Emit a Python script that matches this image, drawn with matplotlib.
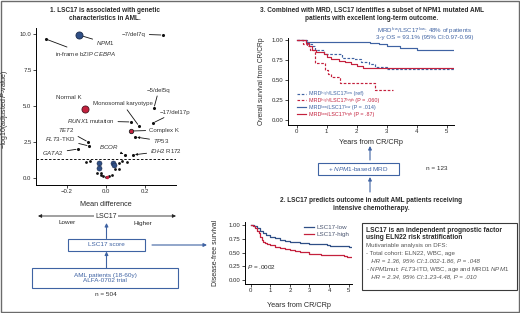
import numpy as np
import matplotlib.pyplot as plt
from matplotlib.patches import Rectangle

plt.rcParams['font.family'] = ['Liberation Sans', 'DejaVu Sans']
plt.rcParams['mathtext.fontset'] = 'custom'
plt.rcParams['mathtext.rm'] = 'Liberation Sans'
plt.rcParams['mathtext.it'] = 'Liberation Sans:italic'
plt.rcParams['mathtext.bf'] = 'Liberation Sans:bold'

W, H = 520, 313
BLUE = '#2f4f86'
LBLUE = '#3f63a3'
RED = '#c4213d'
TXT = '#2a2a2a'
NARROW = ['Liberation Sans Narrow', 'Liberation Sans', 'DejaVu Sans']

# ---- panel 1: volcano data ----
hit_labels = ['$\\mathit{NPM1}$', 'in-frame bZIP $\\mathit{CEBPA}$', '\u22127/del7q', 'Normal K',
              '\u22125/del5q', 'Monosomal karyotype', '\u221217/del17p', '$\\mathit{RUNX1}$ mutation',
              'Complex K', '$\\mathit{TP53}$', '$\\mathit{TET2}$', '$\\mathit{FLT3}$-TKD',
              '$\\mathit{GATA2}$', '$\\mathit{BCOR}$', '$\\mathit{IDH2}$ R172']
hit_x = [-0.138, -0.308, 0.292, -0.108, 0.246, 0.169, 0.241, 0.128, 0.128, 0.149,
         -0.092, -0.087, -0.143, 0.097, 0.138]
hit_y = [9.93, 9.65, 9.93, 4.79, 4.86, 3.61, 3.82, 3.89, 3.26, 2.85,
         2.50, 2.22, 2.01, 1.60, 1.60]
hit_kind = ['big_blue', 'dot', 'dot', 'big_red', 'dot', 'dot', 'dot', 'dot', 'mid_red', 'dot',
            'dot', 'dot', 'dot', 'dot', 'dot']
# label anchor (left, middle) and connector style
lab_x = [-0.051, -0.262, 0.082, -0.256, 0.210, -0.067, 0.277, -0.200, 0.221, 0.241,
         -0.246, -0.313, -0.328, -0.036, 0.226]
lab_y = [9.38, 8.61, 10.0, 5.56, 6.11, 5.14, 4.58, 3.96, 3.33, 2.57,
         3.33, 2.71, 1.74, 2.15, 1.88]
lab_arrow = ['-', '-', '-', None, '-', '-', '-', '-', '-', '-|>',
             '-', '-', '-', '-|>', '-|>']

ns_x = [-0.104, -0.082, 0.068, 0.080, 0.110, 0.048, 0.065, -0.046, -0.027, -0.026,
        -0.014, 0.000, 0.017, 0.030]
ns_y = [1.13, 1.20, 1.02, 1.20, 1.09, 0.60, 0.60, 0.33, 0.37, 0.23,
        0.14, 0.09, 0.16, 0.23]
ns_blue_x = [-0.036, -0.036, 0.035, 0.043]
ns_blue_y = [1.02, 0.67, 1.06, 0.90]
ns_red_x = [0.007]
ns_red_y = [0.05]
p_cut = 1.3

# ---- panel 3: NPM1 MRD x LSC17 overall survival ----
t_hl = [0, 0.35, 0.5, 0.6, 0.9, 1.5, 1.9, 2.15, 2.4, 2.6, 3.0, 5.25]
s_hl = [1, 0.95, 0.92, 0.88, 0.82, 0.78, 0.76, 0.73, 0.70, 0.66, 0.635, 0.635]
t_hh = [0, 0.22, 0.33, 0.45, 0.6, 0.95, 1.05, 1.13, 1.45, 2.62, 3.2]
s_hh = [1, 0.95, 0.92, 0.88, 0.71, 0.625, 0.58, 0.54, 0.46, 0.375, 0.375]
t_ll = [0, 0.31, 0.45, 2.44, 2.75, 3.0, 3.45, 4.0, 5.25]
s_ll = [1, 0.98, 0.97, 0.96, 0.95, 0.92, 0.90, 0.88, 0.88]
t_lh = [0, 0.3, 0.4, 0.5, 0.65, 0.9, 1.0, 1.15, 1.4, 1.6, 1.8, 2.0, 2.2, 5.25]
s_lh = [1, 0.96, 0.92, 0.88, 0.85, 0.82, 0.79, 0.76, 0.74, 0.72, 0.70, 0.68, 0.655, 0.655]
HI = '\u02b0\u2071\u1d4d\u02b0'   # superscript "high"
LO = '\u02e1\u1d52\u02b7'         # superscript "low"
os_labels = ['MRD' + HI + '/LSC17' + LO + ' (ref)',
             'MRD' + HI + '/LSC17' + HI + ' (P = .060)',
             'MRD' + LO + '/LSC17' + LO + ' (P = .014)',
             'MRD' + LO + '/LSC17' + HI + ' (P = .87)']

# ---- panel 2: DFS by LSC17 ----
t_low = [0, 0.15, 0.3, 0.5, 0.65, 0.8, 1.0, 1.25, 1.5, 1.75, 2.0, 2.5, 3.0, 3.5, 3.9, 4.05, 4.6, 5.0, 5.2]
s_low = [1, 0.98, 0.95, 0.89, 0.85, 0.82, 0.79, 0.76, 0.73, 0.71, 0.69, 0.67, 0.66, 0.65, 0.64, 0.61, 0.61, 0.605, 0.60]
t_high = [0, 0.1, 0.22, 0.3, 0.4, 0.5, 0.57, 0.65, 0.74, 0.85, 1.0, 1.25, 1.5, 1.75, 2.0, 2.25,
          2.5, 3.0, 3.6, 4.6, 4.75, 4.9, 5.2]
s_high = [1, 0.98, 0.94, 0.90, 0.85, 0.79, 0.73, 0.70, 0.67, 0.65, 0.63, 0.60, 0.58, 0.565, 0.55, 0.53,
          0.51, 0.48, 0.46, 0.46, 0.43, 0.42, 0.41]


def box(x0, y0, x1, y1):
    return [x0 / W, 1 - y1 / H, (x1 - x0) / W, (y1 - y0) / H]


def style_axes(ax):
    ax.patch.set_visible(False)
    for s in ['top', 'right']:
        ax.spines[s].set_visible(False)
    for s in ['left', 'bottom']:
        ax.spines[s].set_linewidth(0.7)
    ax.tick_params(length=2, width=0.6, labelsize=4.3, pad=1.2, colors=TXT)


fig = plt.figure(figsize=(W / 100, H / 100), dpi=100)

# overlay for the flow-chart parts
ov = fig.add_axes([0, 0, 1, 1])
ov.set_xlim(0, W)
ov.set_ylim(H, 0)
ov.axis('off')
ov.add_patch(Rectangle((1, 1), 517.5, 310.5, fill=False, ec='#6b6b6b', lw=1.0, clip_on=False))

# titles
ov.text(105, 15, '1. LSC17 is associated with genetic\ncharacteristics in AML.', ha='center', va='center',
        fontsize=4.7, fontweight='bold', color=TXT, linespacing=1.2)
ov.text(372, 14, '3. Combined with MRD, LSC17 identifies a subset of NPM1 mutated AML\n'
        'patients with excellent long-term outcome.', ha='center', va='center',
        fontsize=4.7, fontweight='bold', color=TXT, linespacing=1.2)
ov.text(371, 205, '2. LSC17 predicts outcome in adult AML patients receiving\nintensive chemotherapy.',
        ha='center', va='center', fontsize=4.7, fontweight='bold', color=TXT, linespacing=1.2)

# LSC17 scale and boxes
ov.annotate('', xy=(38, 216), xytext=(176, 216),
            arrowprops=dict(arrowstyle='<|-|>', color='#222222', lw=0.6, mutation_scale=5,
                            shrinkA=0, shrinkB=0))
ov.text(106, 216, 'LSC17', ha='center', va='center', fontsize=5, color=TXT,
        bbox=dict(fc='white', ec='none', pad=1.2))
ov.text(67, 223, 'Lower', ha='center', va='center', fontsize=4.6, color=TXT)
ov.text(143, 223, 'Higher', ha='center', va='center', fontsize=4.6, color=TXT)
arrow_kw = dict(arrowstyle='-|>', color=LBLUE, lw=0.8, mutation_scale=5, shrinkA=0, shrinkB=0)
ov.annotate('', xy=(106.5, 223), xytext=(106.5, 238.5), arrowprops=arrow_kw)
ov.add_patch(Rectangle((68, 239), 77, 11.5, fill=False, ec=LBLUE, lw=0.8))
ov.text(106.5, 245, 'LSC17 score', ha='center', va='center', fontsize=4.6, color=LBLUE)
ov.annotate('', xy=(106.5, 251.5), xytext=(106.5, 268), arrowprops=arrow_kw)
ov.add_patch(Rectangle((32, 268), 146, 20, fill=False, ec=LBLUE, lw=0.8))
ov.text(105, 278, 'AML patients (18-60y)\nALFA-0702 trial', ha='center', va='center',
        fontsize=4.6, color=LBLUE, linespacing=1.2)
ov.text(106, 294, 'n = 504', ha='center', va='center', fontsize=4.6, color=TXT)
ov.annotate('', xy=(207, 245), xytext=(152, 245), arrowprops=arrow_kw)

# NPM1 MRD box
ov.annotate('', xy=(370, 146), xytext=(370, 160), arrowprops=arrow_kw)
ov.add_patch(Rectangle((318, 162.5), 81, 12.5, fill=False, ec=LBLUE, lw=0.8))
ov.text(358.5, 169, '+ $\\mathit{NPM1}$-based MRD', ha='center', va='center', fontsize=4.6, color=LBLUE)
ov.text(426, 168.5, 'n = 123', ha='left', va='center', fontsize=4.6, color=TXT)
ov.annotate('', xy=(370, 177), xytext=(370, 192), arrowprops=arrow_kw)

# text box
ov.add_patch(Rectangle((362, 223), 155, 67, fill=False, ec='#3a3a3a', lw=0.8))
box_lines = [('LSC17 is an independent prognostic factor', 'bold', 'normal', TXT),
             ('using ELN22 risk stratification', 'bold', 'normal', TXT),
             ('Mutivariable analysis on DFS:', 'normal', 'normal', '#555555'),
             ('- Total cohort: ELN22, WBC, age', 'normal', 'normal', '#555555'),
             ('   HR = 1.36, 95% CI:1.002-1.86, P = .048', 'normal', 'italic', '#555555'),
             ('- $\\mathit{NPM1}$mut: $\\mathit{FLT3}$-ITD, WBC, age and MRD1 $\\mathit{NPM1}$', 'normal',
              'normal', '#555555'),
             ('   HR = 2.34, 95% CI:1.23-4.48, P = .010', 'normal', 'italic', '#555555')]
box_y = [230, 237.5, 246, 253.5, 261, 269, 276.5]
for (txt, wt, st, col), yy in zip(box_lines, box_y):
    ov.text(366, yy, txt, ha='left', va='center', fontsize=4.8 if wt == 'bold' else 4.4,
            fontweight=wt, fontstyle=st, color=col)

# top-right annotation
ov.text(472, 30.5, 'MRD$^{low}$/LSC17$^{low}$: 48% of patients', ha='right', va='center',
        fontsize=4.4, color=LBLUE)
ov.text(474, 38, '3-y OS = 93.1% (95% CI:0.97-0.99)', ha='right', va='center',
        fontsize=4.4, color=LBLUE)

# ---- volcano ----
ax1 = fig.add_axes(box(36, 28, 176, 185))
style_axes(ax1)
ax1.set_xlim(-0.359, 0.359)
ax1.set_ylim(-0.49, 10.42)
ax1.set_xticks([-0.2, 0.0, 0.2])
ax1.set_yticks([0.0, 2.5, 5.0, 7.5, 10.0])
ax1.xaxis.set_major_formatter('{x:.1f}')
ax1.yaxis.set_major_formatter('{x:.1f}')
ax1.axhline(p_cut, color='#111111', lw=0.7, ls=(0, (2.5, 1.8)))
ax1.scatter(ns_x, ns_y, s=4, color='#111111', lw=0, zorder=3)
ax1.scatter(ns_blue_x, ns_blue_y, s=13, color=BLUE, ec='#1c2c4a', lw=0.4, zorder=3)
ax1.scatter(ns_red_x, ns_red_y, s=6, color=RED, lw=0, zorder=3)
kind_style = {'dot': dict(s=5, color='#111111', lw=0),
              'big_blue': dict(s=26, color=BLUE, ec='#1c2c4a', lw=0.6),
              'big_red': dict(s=26, color=RED, ec='#4a1420', lw=0.6),
              'mid_red': dict(s=10, color=RED, ec='#222222', lw=0.6)}
for i in range(len(hit_x)):
    ax1.scatter([hit_x[i]], [hit_y[i]], zorder=4, **kind_style[hit_kind[i]])
    ap = None
    if lab_arrow[i]:
        ap = dict(arrowstyle=lab_arrow[i], color='#111111', lw=0.6, mutation_scale=3,
                  shrinkA=0.5, shrinkB=1.5)
    ax1.annotate(hit_labels[i], xy=(hit_x[i], hit_y[i]), xytext=(lab_x[i], lab_y[i]),
                 ha='left', va='center', fontsize=4.4, color='#333333', arrowprops=ap)
ax1.set_ylabel('\u2212log10(adjusted $\\mathit{P}$-value)', fontsize=5, color=TXT, family=NARROW)
ax1.yaxis.set_label_coords(-0.186, 0.48)
ax1.set_xlabel('Mean difference', fontsize=5.2, color=TXT, family=NARROW)
ax1.xaxis.set_label_coords(0.5, -0.10)

# ---- top KM: OS ----
ax3 = fig.add_axes(box(288, 38, 454, 125))
style_axes(ax3)
ax3.set_xlim(-0.29, 5.24)
ax3.set_ylim(-0.0625, 1.025)
ax3.set_xticks(range(6))
ax3.set_yticks([0, 0.25, 0.5, 0.75, 1.0])
ax3.yaxis.set_major_formatter('{x:.2f}')
dash = (0, (2.2, 1.4))
os_series = [(t_hl, s_hl, LBLUE, dash), (t_hh, s_hh, RED, dash),
             (t_ll, s_ll, LBLUE, '-'), (t_lh, s_lh, RED, '-')]
for t, s, c, ls in os_series:
    ax3.plot(t, s, drawstyle='steps-post', color=c, lw=0.85, ls=ls)
# compact legend rows
for k, ((t, s, c, ls), lab) in enumerate(zip(os_series, os_labels)):
    ya = (125 - (93.5 + 6.9 * k)) / 87
    ax3.plot([(297 - 288) / 166, (306 - 288) / 166], [ya, ya], color=c, lw=0.85, ls=ls,
             transform=ax3.transAxes, clip_on=False)
    ax3.text((309 - 288) / 166, ya, lab, color=c, fontsize=3.9, ha='left', va='center',
             transform=ax3.transAxes)
ax3.set_ylabel('Overall survival from CR/CRp', fontsize=4.8, color=TXT, family=NARROW)
ax3.yaxis.set_label_coords(-0.139, 0.5)
ax3.set_xlabel('Years from CR/CRp', fontsize=5.2, color=TXT, family=NARROW)
ax3.xaxis.set_label_coords(0.5, -0.16)

# ---- bottom KM: DFS ----
ax2 = fig.add_axes(box(245, 222, 352, 284))
style_axes(ax2)
ax2.set_xlim(-0.29, 5.17)
ax2.set_ylim(-0.073, 1.055)
ax2.set_xticks(range(6))
ax2.set_yticks([0, 0.25, 0.5, 0.75, 1.0])
ax2.yaxis.set_major_formatter('{x:.2f}')
ax2.plot(t_low, s_low, drawstyle='steps-post', color=BLUE, lw=0.9, label='LSC17-low')
ax2.plot(t_high, s_high, drawstyle='steps-post', color=RED, lw=0.9, label='LSC17-high')
leg2 = ax2.legend(loc='upper left', bbox_to_anchor=(0.55, 0.95), fontsize=4.5, frameon=False,
                  handlelength=1.6, handletextpad=0.5, labelspacing=0.15, borderpad=0, borderaxespad=0)
for t in leg2.get_texts():
    t.set_color('#4a5570')
ax2.text(-0.19, 0.24, '$\\mathit{P}$ = .0002', fontsize=4.6, color=TXT, ha='left', va='center')
ax2.set_ylabel('Disease-free survival', fontsize=5, color=TXT, family=NARROW)
ax2.yaxis.set_label_coords(-0.243, 0.5)
ax2.set_xlabel('Years from CR/CRp', fontsize=5.2, color=TXT, family=NARROW)
ax2.xaxis.set_label_coords(0.5, -0.29)

fig.savefig('out.png', dpi=100)
